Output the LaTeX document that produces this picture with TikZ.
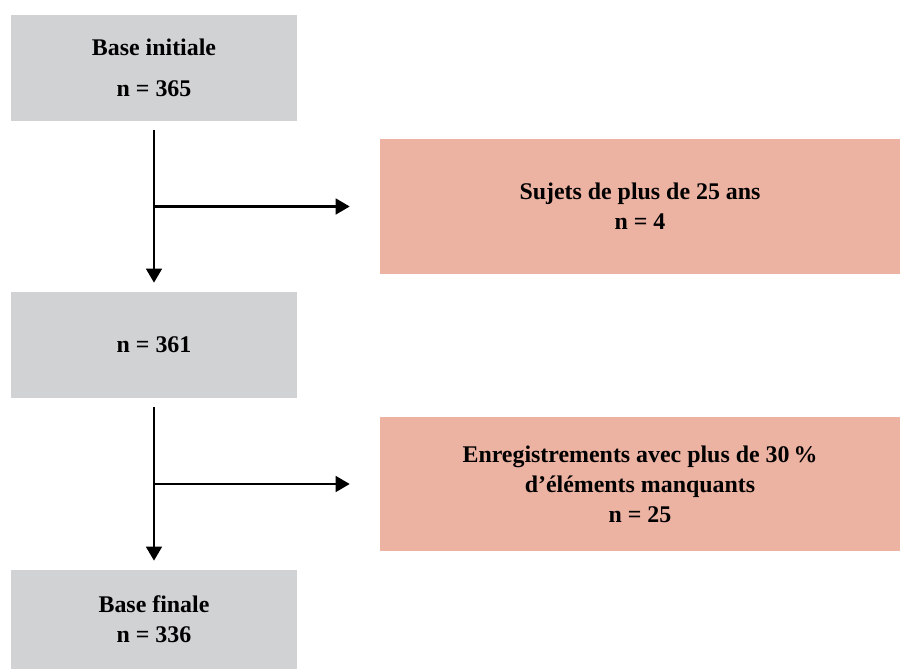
\documentclass[tikz,border=0pt]{standalone}
\usepackage{fontspec}
\setmainfont{Liberation Serif}
\usetikzlibrary{arrows.meta}
\definecolor{boxgray}{HTML}{D1D2D4}
\definecolor{boxpink}{HTML}{ECB2A2}

\begin{document}
\begin{tikzpicture} [x=0.02cm, y=-0.02cm,
  stage/.style = {fill=boxgray, minimum width=5.72cm, align=center, font=\fontsize{13.6}{17}\selectfont\bfseries},
  drop/.style = {fill=boxpink, minimum width=10.4cm, minimum height=2.7cm, align=center, font=\fontsize{13.6}{17}\selectfont\bfseries},
  flow/.style = {line width=1.3pt, -{Triangle[width=9pt, length=8pt]}}]
\useasboundingbox (0,0) rectangle (900,669);
\node[stage, minimum height=2.12cm](base) at (154,68) {Base initiale\\[6pt] n = 365};
\node[stage, minimum height=2.12cm](mid) at (154,345) {n = 361};
\node[stage, minimum height=1.98cm](final) at (154,619.5) {Base finale\\ n = 336};
\node[drop](excl1) at (640,206.5) {Sujets de plus de 25 ans\\ n = 4};
\node[drop](excl2) at (640,484) {Enregistrements avec plus de 30\,\%\\ d’éléments manquants\\ n = 25};
\coordinate (b1) at (base.south |- excl1.west);
\coordinate (b2) at (mid.south |- excl2.west);
\draw [flow, shorten <=0.18cm, shorten >=0.18cm](base) -- (mid);
\draw [flow, shorten <=0.18cm, shorten >=0.18cm](mid) -- (final);
\draw [flow, shorten >=0.6cm](b1) -- (excl1.west);
\draw [flow, shorten >=0.6cm](b2) -- (excl2.west);
\end{tikzpicture}
\end{document}
